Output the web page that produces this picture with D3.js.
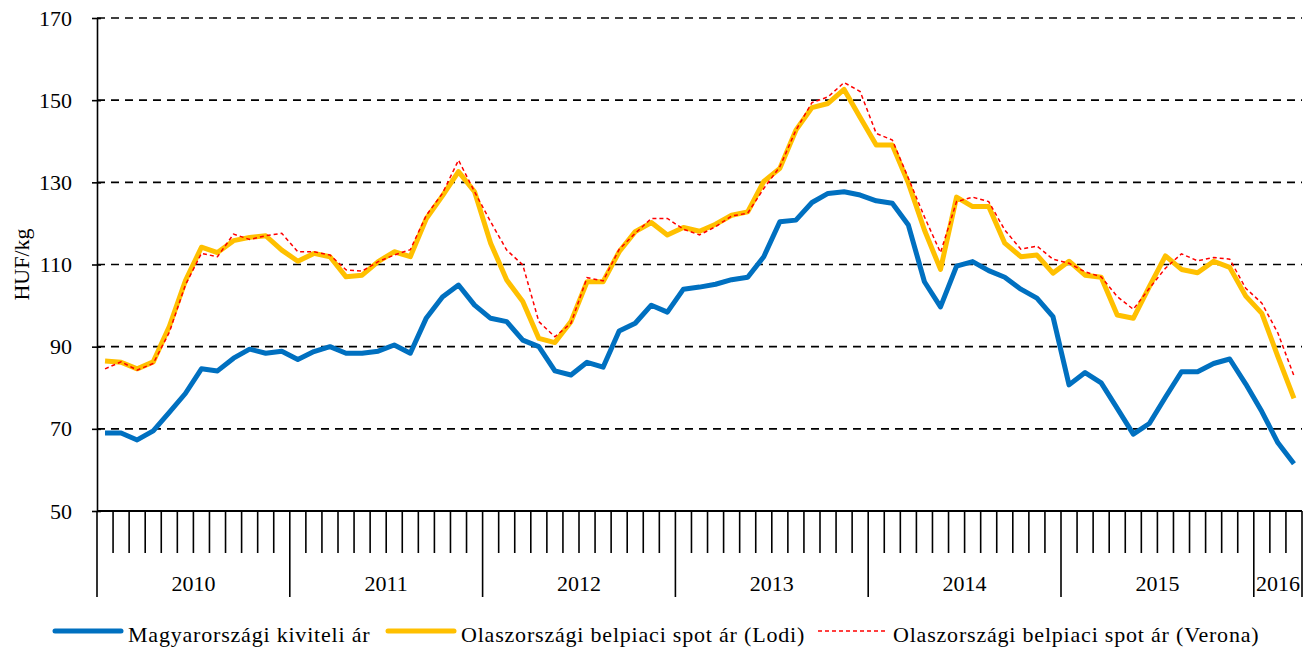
<!DOCTYPE html>
<html>
<head>
<meta charset="utf-8">
<script src="https://cdn.jsdelivr.net/npm/d3@7"></script>
<style>
  body { margin: 0; background: #fff; }
  text { font-family: "Liberation Serif", "Times New Roman", serif; fill: #000; }
</style>
</head>
<body>
<script>
// months Jan 2010 .. Mar 2016
let years = ["2010", "2011", "2012", "2013", "2014", "2015", "2016"];
let monthsPerYear = [12, 12, 12, 12, 12, 12, 3];
let yTicks = [50, 70, 90, 110, 130, 150, 170];

let huExport = [69.0, 69.0, 67.3, 69.5, 74.0, 78.6, 84.6, 84.1, 87.2, 89.4, 88.4, 88.9,
  86.9, 88.8, 90.0, 88.4, 88.4, 88.9, 90.4, 88.4, 97.0, 102.1, 105.0, 100.1,
  96.9, 96.1, 91.6, 90.0, 84.1, 83.1, 86.2, 85.0, 93.8, 95.7, 100.1, 98.4,
  104.0, 104.5, 105.2, 106.3, 106.9, 111.9, 120.4, 120.8, 125.1, 127.3, 127.7, 126.9,
  125.5, 124.9, 119.6, 105.8, 99.7, 109.6, 110.7, 108.5, 106.9, 104.0, 101.8, 97.3,
  80.7, 83.7, 81.2, 75.0, 68.7, 71.3, 77.7, 83.9, 83.9, 85.9, 87.0, 80.9,
  74.2, 66.6, 61.5];

let lodi = [86.5, 86.2, 84.6, 86.3, 94.9, 106.0, 114.2, 112.9, 115.8, 116.6, 117.0, 113.5,
  110.8, 112.7, 111.9, 107.0, 107.4, 110.7, 113.1, 111.9, 121.2, 126.7, 132.6, 127.7,
  115.2, 106.2, 101.0, 92.0, 91.0, 96.1, 105.8, 105.8, 113.1, 118.0, 120.2, 117.2,
  119.0, 118.1, 119.8, 122.0, 122.8, 130.2, 133.4, 142.7, 148.2, 149.2, 152.6, 145.8,
  139.1, 139.1, 129.8, 118.4, 108.8, 126.4, 124.1, 124.1, 115.2, 111.9, 112.3, 107.9,
  110.8, 107.4, 106.9, 97.7, 96.9, 104.6, 112.1, 108.8, 108.0, 110.8, 109.3, 102.3,
  98.1, 87.6, 77.4];

let verona = [84.6, 86.3, 84.3, 85.9, 93.5, 105.0, 112.7, 111.9, 117.4, 116.1, 117.0, 117.6,
  113.1, 113.1, 112.3, 108.7, 108.4, 110.7, 112.3, 113.6, 122.0, 127.3, 135.4, 127.7,
  120.4, 113.5, 109.9, 96.1, 92.4, 95.7, 106.8, 106.0, 113.7, 117.6, 121.2, 121.2,
  118.6, 117.2, 119.2, 121.8, 122.5, 128.5, 133.8, 142.7, 149.4, 150.8, 154.3, 152.1,
  141.9, 140.3, 131.0, 121.6, 112.9, 125.3, 126.4, 125.3, 118.4, 113.7, 114.5, 111.3,
  110.3, 108.2, 107.0, 102.2, 99.1, 104.2, 109.1, 112.6, 110.9, 111.7, 111.3, 104.2,
  100.6, 93.3, 82.9];

let seriesNames = ["Magyarországi kiviteli ár", "Olaszországi belpiaci spot ár (Lodi)", "Olaszországi belpiaci spot ár (Verona)"];

let width = 1313, height = 648;
let plotLeft = 97, plotRight = 1302, plotTop = 18, plotBottom = 511;

let svg = d3.select("body").append("svg")
  .attr("width", width)
  .attr("height", height);

let nMonths = d3.sum(monthsPerYear);
let xScale = d3.scaleBand().domain(d3.range(nMonths)).range([plotLeft, plotRight]).paddingInner(0).paddingOuter(0);
let yScale = d3.scaleLinear().domain([50, 170]).range([plotBottom, plotTop]);
let xc = function(i){ return xScale(i) + xScale.bandwidth() / 2; };

// gridlines
svg.append("g")
  .selectAll("line")
  .data(yTicks.filter(function(d){ return d > 50; }))
  .enter()
  .append("line")
  .attr("x1", plotLeft).attr("x2", plotRight)
  .attr("y1", function(d){ return yScale(d); })
  .attr("y2", function(d){ return yScale(d); })
  .attr("stroke", "#000")
  .attr("stroke-width", 1.6)
  .attr("stroke-dasharray", "8,6");

// y axis
let yAxis = d3.axisLeft(yScale).tickValues(yTicks).tickSizeInner(5).tickSizeOuter(0).tickPadding(20);
let yg = svg.append("g")
  .attr("transform", "translate(" + plotLeft + ",0)")
  .call(yAxis);
yg.select(".domain").attr("stroke", "#000").attr("stroke-width", 1.6);
yg.selectAll(".tick line").attr("stroke-width", 1.6).attr("x2", 4).attr("x1", -5);
yg.selectAll(".tick text").style("font-size", "22px").style("font-family", "Liberation Serif");

svg.append("text")
  .attr("transform", "translate(29," + ((plotTop + plotBottom) / 2) + ") rotate(-90)")
  .style("text-anchor", "middle")
  .style("font-size", "22px")
  .text("HUF/kg");

// x axis: month ticks and year separators
svg.append("line")
  .attr("x1", plotLeft).attr("x2", plotRight)
  .attr("y1", plotBottom).attr("y2", plotBottom)
  .attr("stroke", "#000").attr("stroke-width", 2);

let yearStarts = [];
let acc = 0;
monthsPerYear.forEach(function(m){ yearStarts.push(acc); acc += m; });

let bounds = d3.range(nMonths + 1);
svg.append("g")
  .selectAll("line")
  .data(bounds)
  .enter()
  .append("line")
  .attr("x1", function(d){ return d < nMonths ? xScale(d) : plotRight; })
  .attr("x2", function(d){ return d < nMonths ? xScale(d) : plotRight; })
  .attr("y1", plotBottom)
  .attr("y2", function(d){ return (yearStarts.indexOf(d) >= 0 || d === nMonths) ? 597 : 553; })
  .attr("stroke", "#000")
  .attr("stroke-width", 1.6);

svg.append("g")
  .selectAll("text")
  .data(years)
  .enter()
  .append("text")
  .attr("x", function(d, i){
    let a = xScale(yearStarts[i]);
    let b = yearStarts[i] + monthsPerYear[i] < nMonths ? xScale(yearStarts[i] + monthsPerYear[i]) : plotRight;
    return (a + b) / 2;
  })
  .attr("y", 591)
  .style("text-anchor", "middle")
  .style("font-size", "22px")
  .text(function(d){ return d; });

// lines
let line = d3.line()
  .x(function(d, i){ return xc(i); })
  .y(function(d){ return yScale(d); });

svg.append("path")
  .datum(huExport)
  .attr("d", line)
  .attr("fill", "none")
  .attr("stroke", "#0070C0")
  .attr("stroke-width", 5)
  .attr("stroke-linejoin", "round");

svg.append("path")
  .datum(lodi)
  .attr("d", line)
  .attr("fill", "none")
  .attr("stroke", "#FFC000")
  .attr("stroke-width", 5)
  .attr("stroke-linejoin", "round");

svg.append("path")
  .datum(verona)
  .attr("d", line)
  .attr("fill", "none")
  .attr("stroke", "#FF0000")
  .attr("stroke-width", 1.5)
  .attr("stroke-dasharray", "4,3");

// legend
let legendItems = [
  {name: seriesNames[0], color: "#0070C0", w: 5, dash: null, x: 55},
  {name: seriesNames[1], color: "#FFC000", w: 5, dash: null, x: 388},
  {name: seriesNames[2], color: "#FF0000", w: 1.5, dash: "4,3", x: 818}
];
let lg = svg.append("g").selectAll("g").data(legendItems).enter().append("g")
  .attr("transform", function(d){ return "translate(" + d.x + ",631)"; });
lg.append("line")
  .attr("x1", 0).attr("x2", function(d){ return d.dash ? 67 : 66; })
  .attr("stroke", function(d){ return d.color; })
  .attr("stroke-width", function(d){ return d.w; })
  .attr("stroke-linecap", function(d){ return d.dash ? "butt" : "round"; })
  .attr("stroke-dasharray", function(d){ return d.dash; });
lg.append("text")
  .attr("x", function(d){ return d.dash ? 75 : 73; })
  .attr("y", 11)
  .style("font-size", "22px")
  .style("letter-spacing", "0.8px")
  .text(function(d){ return d.name; });
</script>
</body>
</html>
